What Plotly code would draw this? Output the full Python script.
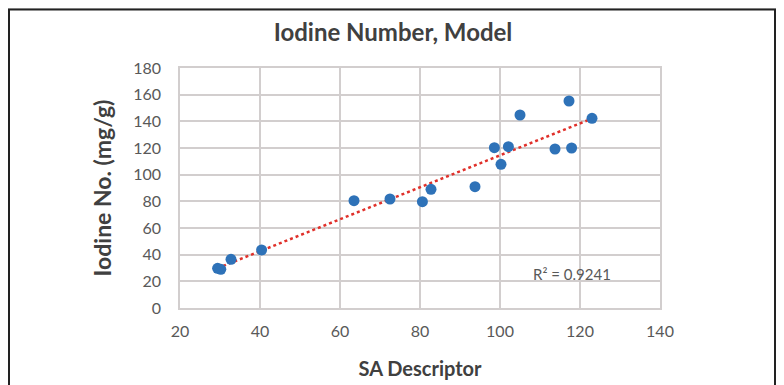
import numpy as np
import plotly.graph_objects as go

sa_descriptor = [29.4, 30.2, 32.75, 40.4, 63.5, 72.5, 80.6, 82.75, 93.75, 98.6,
                 100.25, 102.1, 105.0, 113.75, 117.25, 117.9, 123.0]
iodine_number = [29.8, 29.0, 36.5, 43.5, 80.5, 81.75, 79.7, 89.0, 91.0, 120.2,
                 107.75, 121.0, 144.75, 119.25, 155.25, 120.0, 142.3]
r2_label = "R² = 0.9241"

xa = np.array(sa_descriptor)
ya = np.array(iodine_number)
slope, intercept = np.polyfit(xa, ya, 1)
tx = np.array([xa.min(), xa.max()])
ty = slope * tx + intercept

FONT = "Lato"
GRAY = "#595959"
DARK = "#404040"

# page has an 8px body margin: figure origin is at page (8, 8)
OFF = 8
W, H = 784 - OFF, 385 - OFF
L, T = 180 - OFF, 68 - OFF
R = (OFF + W) - 660
B = (OFF + H) - 308

fig = go.Figure()
fig.add_trace(go.Scatter(
    x=tx, y=ty, mode="lines",
    line=dict(color="#e0302a", width=2.5, dash="dot"),
    hoverinfo="skip", showlegend=False))
fig.add_trace(go.Scatter(
    x=sa_descriptor, y=iodine_number, mode="markers",
    marker=dict(color="#2e72b8", size=11),
    showlegend=False))

fig.add_annotation(x=118, y=25.5, text=r2_label, showarrow=False,
                   font=dict(family=FONT, size=15, color=GRAY))

# page decorations (paper coords relative to plot area, page px 180-660 x 68-308)
def px(p):
    return (p - 180) / 480.0

def py(p):
    return (308 - p) / 240.0

fig.add_shape(type="rect", xref="paper", yref="paper",
              x0=px(-5), x1=px(790), y0=py(9), y1=py(-5),
              fillcolor="#d9d9d9", line=dict(width=0), layer="below")
fig.add_shape(type="rect", xref="paper", yref="paper",
              x0=px(9), x1=px(775), y0=py(9.5), y1=py(400),
              fillcolor="rgba(0,0,0,0)", line=dict(color="#222222", width=2))

fig.update_layout(
    width=W, height=H,
    margin=dict(l=L, r=R, t=T, b=B),
    paper_bgcolor="white", plot_bgcolor="white",
    title=dict(text="<b>Iodine Number, Model</b>", x=(393 - OFF) / W, xanchor="center",
               y=1 - (33 - OFF) / H, yanchor="middle",
               font=dict(family=FONT, size=24, color=DARK)),
    font=dict(family=FONT, color=GRAY),
    xaxis=dict(range=[20, 140], dtick=20, tick0=20, automargin=False,
               showgrid=True, gridcolor="#d2cece", gridwidth=1.5,
               showline=True, linecolor="#d2cece", linewidth=1.5, mirror=True,
               zeroline=False, ticks="", tickfont=dict(size=16, color=GRAY),
               ticklabelstandoff=8,
               title=dict(text="<b>SA Descriptor</b>", standoff=23,
                          font=dict(size=20, color=DARK))),
    yaxis=dict(range=[0, 180], dtick=20, tick0=0, automargin=False,
               showgrid=True, gridcolor="#d2cece", gridwidth=1.5,
               showline=True, linecolor="#d2cece", linewidth=1.5, mirror=True,
               zeroline=False, ticks="", tickfont=dict(size=16, color=GRAY),
               ticklabelstandoff=14,
               title=dict(text="<b>Iodine No. (mg/g)</b>", standoff=15,
                          font=dict(size=23, color=DARK))),
)

fig.write_html("out.html")
